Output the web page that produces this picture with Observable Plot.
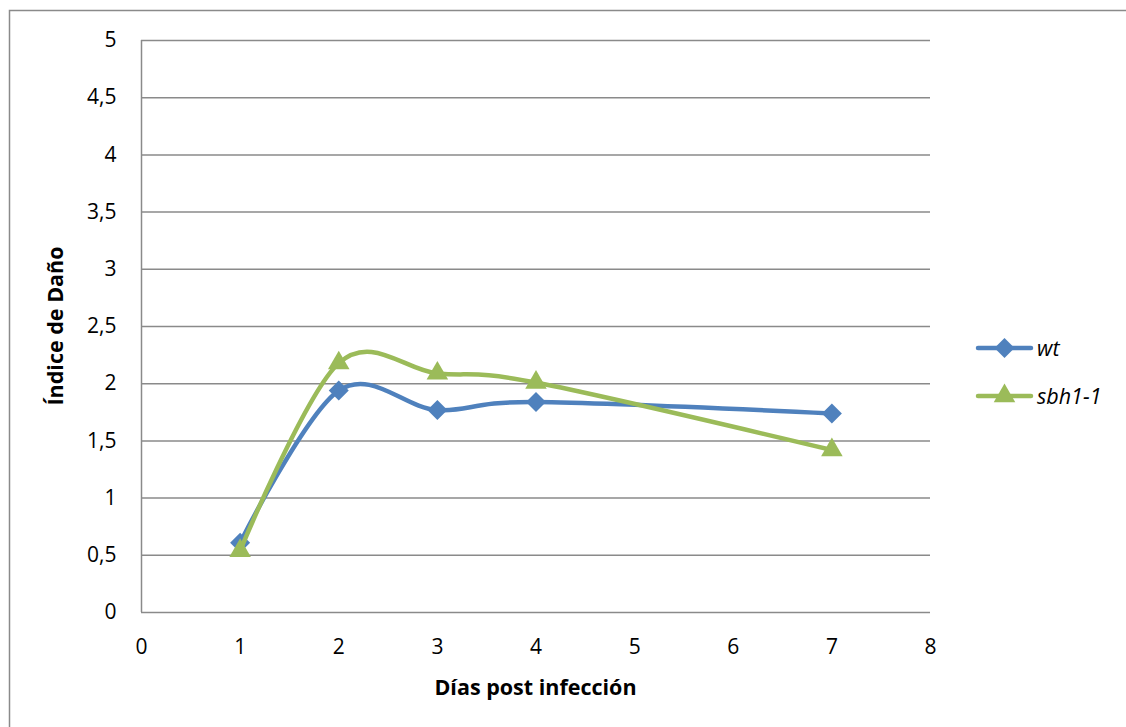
<!DOCTYPE html>
<html>
<head>
<meta charset="utf-8">
<script src="https://cdn.jsdelivr.net/npm/d3@7"></script>
<script src="https://cdn.jsdelivr.net/npm/@observablehq/plot@0.6"></script>
<style>
  html, body { margin: 0; padding: 0; background: #fff; }
  #chart { position: relative; width: 1126px; height: 727px; overflow: hidden; }
</style>
</head>
<body>
<div id="chart"></div>
<script>
const days = [1, 2, 3, 4, 7];
const wt = [0.61, 1.94, 1.77, 1.84, 1.74];
const sbh = [0.54, 2.18, 2.09, 2.01, 1.42];
const seriesNames = ["wt", "sbh1-1"];
const seriesColors = ["#4F81BD", "#9BBB59"];
const xTicks = [0, 1, 2, 3, 4, 5, 6, 7, 8];
const yTicks = [0, 0.5, 1, 1.5, 2, 2.5, 3, 3.5, 4, 4.5, 5];
const xTitle = "Días post infección";
const yTitle = "Índice de Daño";

const wtData = days.map((d, i) => ({day: d, v: wt[i]}));
const sbhData = days.map((d, i) => ({day: d, v: sbh[i]}));

const fontFamily = "'Open Sans', Lato, sans-serif";
const W = 1126, H = 727;
const mL = 141, mR = 196, mT = 40, mB = 115;

const plot = Plot.plot({
  width: W,
  height: H,
  marginLeft: mL,
  marginRight: mR,
  marginTop: mT,
  marginBottom: mB,
  style: {fontFamily, fontSize: "20px", color: "#000", background: "transparent"},
  x: {domain: [0, 8], ticks: xTicks, label: null},
  y: {domain: [0, 5], ticks: yTicks, label: null},
  marks: [
    Plot.ruleY(yTicks.filter(d => d > 0), {stroke: "#8a8a8a", strokeWidth: 1.5, strokeOpacity: 1}),
    Plot.ruleY([0], {stroke: "#8a8a8a", strokeWidth: 1.5}),
    Plot.ruleX([0], {stroke: "#8a8a8a", strokeWidth: 1.5}),
    Plot.axisX({ticks: xTicks, tickSize: 0, tickPadding: 27, tickFormat: d => String(d), fontSize: 21, fill: "#000"}),
    Plot.axisY({ticks: yTicks, tickSize: 0, tickPadding: 25, tickFormat: d => String(d).replace(".", ","), fontSize: 21, fill: "#000"}),
    Plot.line(wtData, {x: "day", y: "v", stroke: seriesColors[0], strokeWidth: 4.5, curve: "cardinal", tension: 0}),
    Plot.dot(wtData, {x: "day", y: "v", symbol: "diamond2", r: 9, fill: seriesColors[0], stroke: "none"}),
    Plot.line(sbhData, {x: "day", y: "v", stroke: seriesColors[1], strokeWidth: 4.5, curve: "cardinal", tension: 0}),
    Plot.dot(sbhData, {x: "day", y: "v", symbol: "triangle", r: 8, fill: seriesColors[1], stroke: "none"})
  ]
});

document.getElementById("chart").appendChild(plot);
const svg = d3.select(plot);

// outer chart-area border
svg.insert("rect", ":first-child")
  .attr("x", 9.5).attr("y", 10.5)
  .attr("width", 1140).attr("height", 740)
  .attr("fill", "none").attr("stroke", "#8a8a8a").attr("stroke-width", 1.5);

// axis titles
svg.append("text")
  .attr("x", mL + (W - mL - mR) / 2).attr("y", 695)
  .attr("text-anchor", "middle")
  .attr("font-family", fontFamily).attr("font-weight", "bold").attr("font-size", 21.5)
  .attr("fill", "#000")
  .text(xTitle);

svg.append("text")
  .attr("transform", `translate(63,${mT + (H - mT - mB) / 2}) rotate(-90)`)
  .attr("text-anchor", "middle")
  .attr("font-family", fontFamily).attr("font-weight", "bold").attr("font-size", 21.5)
  .attr("fill", "#000")
  .text(yTitle);

// legend
const legendY = [348, 396];
const lg = svg.append("g");
seriesNames.forEach((name, i) => {
  const g = lg.append("g").attr("transform", `translate(0,${legendY[i]})`);
  g.append("line").attr("x1", 978).attr("x2", 1031).attr("y1", 0).attr("y2", 0)
    .attr("stroke", seriesColors[i]).attr("stroke-width", 4.5).attr("stroke-linecap", "round");
  const sym = i === 0 ? d3.symbolDiamond2 : d3.symbolTriangle;
  const size = Math.PI * (i === 0 ? 9 : 8) ** 2;
  g.append("path").attr("transform", "translate(1004.5,0)")
    .attr("d", d3.symbol(sym, size)()).attr("fill", seriesColors[i]);
  g.append("text").attr("x", 1037).attr("y", 0).attr("dy", "0.35em")
    .attr("text-anchor", "start")
    .attr("font-family", fontFamily).attr("font-style", "italic").attr("font-size", 21.5)
    .attr("fill", "#000").text(name);
});
</script>
</body>
</html>
